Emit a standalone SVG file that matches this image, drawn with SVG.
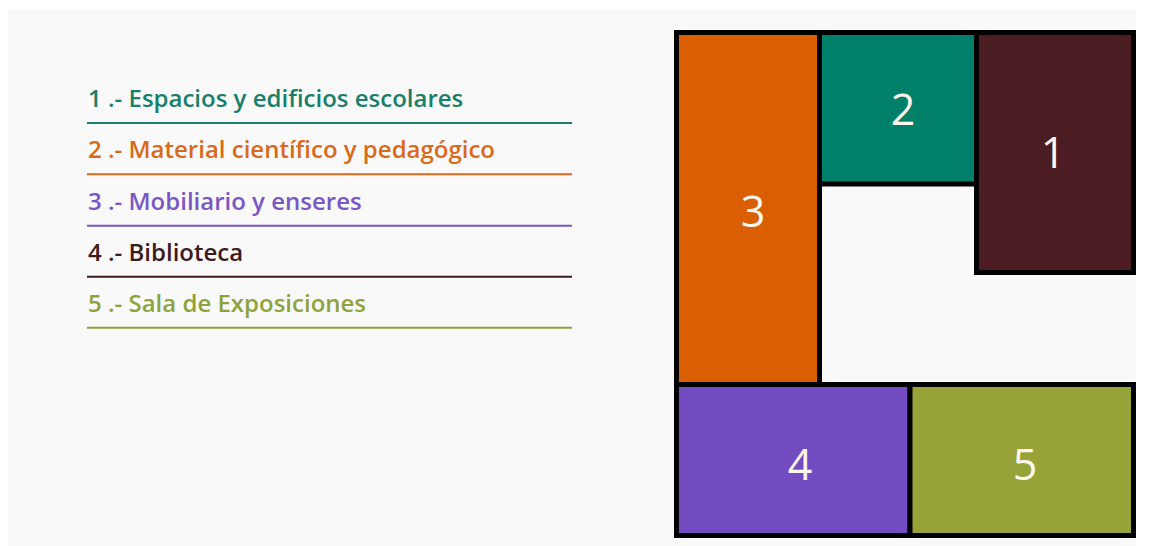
<svg xmlns="http://www.w3.org/2000/svg" width="1153" height="546" viewBox="0 0 1153 546">
<style>
.leg{font-family:"Open Sans","Noto Sans",sans-serif;font-weight:600;font-size:24px}
.rl{stroke-width:2}
.box{stroke:#000;stroke-width:5}
.num{font-family:"Open Sans","Noto Sans",sans-serif;font-size:43px;fill:#fdf6ee;text-anchor:middle}
</style>
<rect x="0" y="0" width="1153" height="546" fill="#ffffff"/>
<rect x="8" y="9" width="1128" height="537" fill="#f9f9f9"/>
<g id="legend">
<g id="leg1"><text class="leg" x="88" y="107" fill="#1a7f6a">1 .- Espacios y edificios escolares</text><line class="rl" x1="87" y1="123" x2="572" y2="123" stroke="#1a7f6a"/></g>
<g id="leg2"><text class="leg" x="88" y="158" fill="#d96a1b">2 .- Material científico y pedagógico</text><line class="rl" x1="87" y1="174.3" x2="572" y2="174.3" stroke="#d96a1b"/></g>
<g id="leg3"><text class="leg" x="88" y="209.5" fill="#7a57c4">3 .- Mobiliario y enseres</text><line class="rl" x1="87" y1="225.7" x2="572" y2="225.7" stroke="#7a57c4"/></g>
<g id="leg4"><text class="leg" x="88" y="261" fill="#3d1a1e">4 .- Biblioteca</text><line class="rl" x1="87" y1="276.7" x2="572" y2="276.7" stroke="#3d1a1e"/></g>
<g id="leg5"><text class="leg" x="88" y="312" fill="#8fa33d">5 .- Sala de Exposiciones</text><line class="rl" x1="87" y1="327.7" x2="572" y2="327.7" stroke="#8fa33d"/></g>
</g>
<g id="n3"><rect class="box" x="676.5" y="32.5" width="143" height="352" fill="#d95f02"/><text class="num" x="753" y="227">3</text></g>
<g id="n2"><rect class="box" x="819.5" y="32.5" width="157" height="151.5" fill="#00806a"/><text class="num" x="903" y="125">2</text></g>
<g id="n1"><rect class="box" x="976.5" y="32.5" width="157" height="240" fill="#4b1c22"/><text class="num" x="1053" y="168">1</text></g>
<g id="n4"><rect class="box" x="676.5" y="384.5" width="233.5" height="151" fill="#734cc2"/><text class="num" x="800" y="480">4</text></g>
<g id="n5"><rect class="box" x="910" y="384.5" width="223.5" height="151" fill="#97a239"/><text class="num" x="1025" y="480">5</text></g>
<g id="connectors"></g>
</svg>
